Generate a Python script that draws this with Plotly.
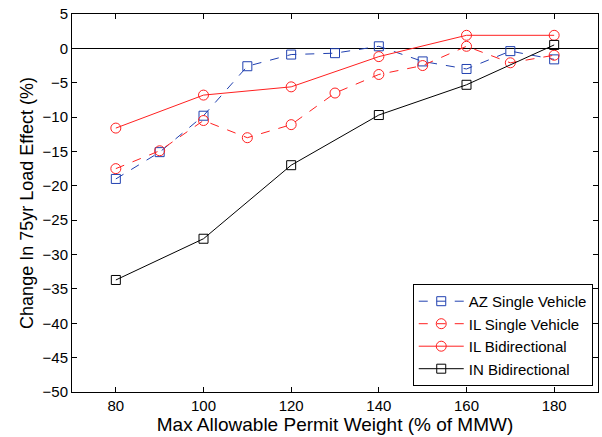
import plotly.graph_objects as go

x_single = [80, 90, 100, 110, 120, 130, 140, 150, 160, 170, 180]
x_bidir = [80, 100, 120, 140, 160, 180]

az_single = [-19.0, -15.1, -9.8, -2.6, -0.9, -0.7, 0.3, -1.9, -3.0, -0.4, -1.6]
il_single = [-17.5, -14.9, -10.5, -13.0, -11.1, -6.5, -3.8, -2.5, 0.3, -2.1, -1.0]
il_bidir = [-11.6, -6.8, -5.6, -1.2, 1.9, 1.9]
in_bidir = [-33.7, -27.7, -17.0, -9.7, -5.3, 0.5]

FONT = "Liberation Sans, Arial"

fig = go.Figure()
fig.add_trace(go.Scatter(x=x_single, y=az_single, name="AZ Single Vehicle", mode="lines+markers",
                         line=dict(color="#2040b0", width=1, dash="dash"),
                         marker=dict(symbol="square-open", size=9, color="#2040b0", line=dict(width=1))))
fig.add_trace(go.Scatter(x=x_single, y=il_single, name="IL Single Vehicle", mode="lines+markers",
                         line=dict(color="#ff2020", width=1, dash="dash"),
                         marker=dict(symbol="circle-open", size=10, color="#ff2020", line=dict(width=1))))
fig.add_trace(go.Scatter(x=x_bidir, y=il_bidir, name="IL Bidirectional", mode="lines+markers",
                         line=dict(color="#ff2020", width=1),
                         marker=dict(symbol="circle-open", size=10, color="#ff2020", line=dict(width=1))))
fig.add_trace(go.Scatter(x=x_bidir, y=in_bidir, name="IN Bidirectional", mode="lines+markers",
                         line=dict(color="black", width=1),
                         marker=dict(symbol="square-open", size=9, color="black", line=dict(width=1))))

axis_common = dict(showline=True, linecolor="black", linewidth=1, mirror="ticks", ticks="inside",
                   ticklen=5, tickcolor="black", showgrid=False,
                   tickfont=dict(family=FONT, size=15, color="black"))

fig.update_xaxes(range=[70, 190], tickvals=[80, 100, 120, 140, 160, 180], zeroline=False,
                 title=dict(text="Max Allowable Permit Weight (% of MMW)",
                            font=dict(family=FONT, size=19, color="black"), standoff=2),
                 **axis_common)
fig.update_yaxes(range=[-50, 5], dtick=5, zeroline=True, zerolinecolor="black", zerolinewidth=1,
                 title=dict(text="Change In 75yr Load Effect (%)",
                            font=dict(family=FONT, size=18, color="black"), standoff=4),
                 **axis_common)

fig.update_layout(
    width=602, height=437,
    margin=dict(l=72, r=4, t=14, b=45),
    plot_bgcolor="white", paper_bgcolor="white",
    legend=dict(x=0.99, y=0.016, xanchor="right", yanchor="bottom",
                bordercolor="black", borderwidth=1, bgcolor="white",
                font=dict(family=FONT, size=15, color="black"),
                tracegroupgap=0, itemwidth=45),
)

fig.write_html("out.html")
